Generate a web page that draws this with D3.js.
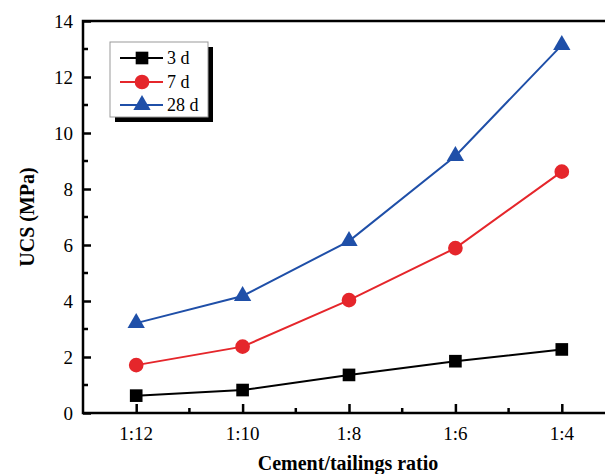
<!DOCTYPE html>
<html>
<head>
<meta charset="utf-8">
<script src="https://cdn.jsdelivr.net/npm/d3@7"></script>
<style>
  body { margin: 0; background: #fff; }
  svg { display: block; }
  svg text { font-family: 'Liberation Serif', 'Times New Roman', Times, 'DejaVu Serif', serif; }
</style>
</head>
<body>
<svg id="chart" width="605" height="474"></svg>
<script>
const ratios = ["1:12", "1:10", "1:8", "1:6", "1:4"]
const ucs3d = [0.62, 0.82, 1.36, 1.85, 2.27]
const ucs7d = [1.71, 2.37, 4.03, 5.89, 8.62]
const ucs28d = [3.21, 4.18, 6.14, 9.18, 13.14]
const seriesNames = ["3 d", "7 d", "28 d"]
const yTicks = [0, 2, 4, 6, 8, 10, 12, 14]

const series = [
    { name: seriesNames[0], values: ucs3d, color: "#000000", symbol: d3.symbolSquare, size: 160 },
    { name: seriesNames[1], values: ucs7d, color: "#e5262b", symbol: d3.symbolCircle, size: 170 },
    { name: seriesNames[2], values: ucs28d, color: "#1f4fa8", symbol: d3.symbolTriangle, size: 130 }
]

const mLeft = 83, mRight = 615, mTop = 21, mBottom = 413
const svg = d3.select("#chart")

const x = d3.scaleLinear().domain([-0.5, 4.5]).range([mLeft, mRight])
const y = d3.scaleLinear().domain([0, 14]).range([mBottom, mTop])

// frame (right side falls outside the picture)
svg.append("path")
    .attr("d", `M${mRight},${mTop}H${mLeft}V${mBottom}H${mRight}`)
    .attr("fill", "none")
    .attr("stroke", "#000")
    .attr("stroke-width", 2.5)

// y axis, ticks point inward
const yAxis = svg.append("g").attr("transform", `translate(${mLeft},0)`)
    .call(d3.axisRight(y).tickValues(yTicks).tickSize(8).tickFormat(""))
    .attr("font-family", null)
yAxis.select(".domain").remove()
yAxis.selectAll("line").attr("stroke-width", 2.5)
yAxis.append("g").selectAll("line")
    .data(d3.range(1, 14, 2))
    .join("line")
    .attr("x1", 0).attr("x2", 5)
    .attr("y1", d => y(d)).attr("y2", d => y(d))
    .attr("stroke", "#000").attr("stroke-width", 2.5)
yAxis.append("g").selectAll("text")
    .data(yTicks)
    .join("text")
    .attr("x", -10)
    .attr("y", d => y(d))
    .attr("dy", "0.35em")
    .attr("text-anchor", "end")
    .attr("font-size", 19)
    .attr("fill", "#000")
    .text(d => d)

// x axis, ticks point inward
const xAxis = svg.append("g").attr("transform", `translate(0,${mBottom})`)
    .call(d3.axisTop(x).tickValues(d3.range(ratios.length)).tickSize(9).tickFormat(""))
    .attr("font-family", null)
xAxis.select(".domain").remove()
xAxis.selectAll("line").attr("stroke-width", 2.5)
xAxis.append("g").selectAll("line")
    .data(d3.range(0.5, 4.5, 1))
    .join("line")
    .attr("x1", d => x(d)).attr("x2", d => x(d))
    .attr("y1", 0).attr("y2", -5)
    .attr("stroke", "#000").attr("stroke-width", 2.5)
xAxis.append("g").selectAll("text")
    .data(ratios)
    .join("text")
    .attr("x", (d, i) => x(i))
    .attr("y", 27)
    .attr("text-anchor", "middle")
    .attr("font-size", 19)
    .attr("fill", "#000")
    .text(d => d)

// axis titles
svg.append("text")
    .attr("transform", `translate(34,${(mTop + mBottom) / 2}) rotate(-90)`)
    .attr("text-anchor", "middle")
    .attr("font-size", 20)
    .attr("font-weight", "bold")
    .text("UCS (MPa)")
svg.append("text")
    .attr("x", 348)
    .attr("y", 470)
    .attr("text-anchor", "middle")
    .attr("font-size", 20)
    .attr("font-weight", "bold")
    .text("Cement/tailings ratio")

// lines and markers
const line = d3.line().x((d, i) => x(i)).y(d => y(d))
series.forEach(s => {
    svg.append("path")
        .attr("d", line(s.values))
        .attr("fill", "none")
        .attr("stroke", s.color)
        .attr("stroke-width", 2)
    svg.append("g").selectAll("path")
        .data(s.values)
        .join("path")
        .attr("transform", (d, i) => `translate(${x(i)},${y(d)})`)
        .attr("d", d3.symbol(s.symbol, s.size))
        .attr("fill", s.color)
})

// legend with drop shadow
const lg = svg.append("g")
lg.append("rect")
    .attr("x", 115).attr("y", 47).attr("width", 98).attr("height", 75)
    .attr("fill", "#000")
lg.append("rect")
    .attr("x", 110).attr("y", 42).attr("width", 98).attr("height", 75)
    .attr("fill", "#fff").attr("stroke", "#999").attr("stroke-width", 1)
const rows = [58, 82, 105]
series.forEach((s, i) => {
    const g = lg.append("g").attr("transform", `translate(0,${rows[i]})`)
    g.append("line").attr("x1", 120).attr("x2", 163)
        .attr("stroke", s.color).attr("stroke-width", 2)
    g.append("path").attr("transform", "translate(142,0)")
        .attr("d", d3.symbol(s.symbol, s.size)).attr("fill", s.color)
    g.append("text").attr("x", 167).attr("dy", "0.35em")
        .attr("font-size", 18).text(s.name)
})
</script>
</body>
</html>
